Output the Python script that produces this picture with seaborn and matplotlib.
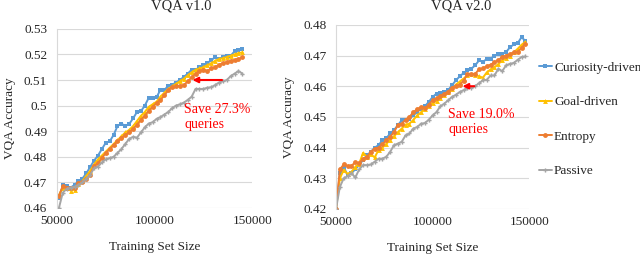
import numpy as np
import pandas as pd
import matplotlib
matplotlib.use("Agg")
import matplotlib.pyplot as plt
import seaborn as sns

# ----- data: VQA v1.0 -----
v1_size = list(range(51000, 146000, 2000))
v1_curiosity = [0.4640, 0.4688, 0.4685, 0.4680, 0.4690, 0.4705, 0.4715, 0.4735, 0.4760, 0.4785,
                0.4805, 0.4830, 0.4855, 0.4860, 0.4885, 0.4920, 0.4930, 0.4920, 0.4928, 0.4950,
                0.4975, 0.4978, 0.5000, 0.5030, 0.5030, 0.5032, 0.5062, 0.5060, 0.5078, 0.5082,
                0.5090, 0.5100, 0.5112, 0.5125, 0.5140, 0.5140, 0.5150, 0.5158, 0.5165, 0.5178,
                0.5188, 0.5182, 0.5190, 0.5195, 0.5195, 0.5212, 0.5218, 0.5222]
v1_goal = [0.4650, 0.4680, 0.4678, 0.4668, 0.4672, 0.4695, 0.4705, 0.4725, 0.4745, 0.4770,
           0.4790, 0.4805, 0.4820, 0.4835, 0.4850, 0.4865, 0.4880, 0.4895, 0.4905, 0.4920,
           0.4940, 0.4960, 0.4975, 0.4995, 0.5005, 0.5015, 0.5035, 0.5050, 0.5065, 0.5075,
           0.5085, 0.5095, 0.5105, 0.5118, 0.5130, 0.5140, 0.5145, 0.5150, 0.5158, 0.5165,
           0.5175, 0.5182, 0.5185, 0.5190, 0.5195, 0.5200, 0.5205, 0.5208]
v1_entropy = [0.4648, 0.4685, 0.4680, 0.4678, 0.4680, 0.4698, 0.4700, 0.4715, 0.4730, 0.4765,
              0.4775, 0.4795, 0.4815, 0.4830, 0.4845, 0.4860, 0.4872, 0.4885, 0.4895, 0.4910,
              0.4925, 0.4945, 0.4960, 0.4980, 0.4995, 0.5010, 0.5022, 0.5040, 0.5060, 0.5072,
              0.5075, 0.5078, 0.5080, 0.5095, 0.5110, 0.5125, 0.5135, 0.5140, 0.5135, 0.5145,
              0.5150, 0.5160, 0.5165, 0.5170, 0.5175, 0.5178, 0.5182, 0.5188]
v1_passive = [0.4600, 0.4660, 0.4675, 0.4680, 0.4683, 0.4690, 0.4700, 0.4715, 0.4730, 0.4755,
              0.4762, 0.4778, 0.4790, 0.4795, 0.4800, 0.4815, 0.4830, 0.4850, 0.4870, 0.4878,
              0.4875, 0.4895, 0.4915, 0.4930, 0.4935, 0.4948, 0.4955, 0.4965, 0.4975, 0.4990,
              0.5000, 0.5005, 0.5012, 0.5022, 0.5035, 0.5065, 0.5065, 0.5065, 0.5070, 0.5072,
              0.5080, 0.5090, 0.5095, 0.5100, 0.5115, 0.5125, 0.5135, 0.5125]

# ----- data: VQA v2.0 -----
v2_size = list(range(50000, 150000, 2000))
v2_curiosity = [0.4200, 0.4316, 0.4337, 0.4310, 0.4316, 0.4330, 0.4343, 0.4360, 0.4375, 0.4386,
                0.4400, 0.4408, 0.4424, 0.4430, 0.4446, 0.4457, 0.4473, 0.4489, 0.4491, 0.4494,
                0.4505, 0.4516, 0.4527, 0.4535, 0.4549, 0.4565, 0.4576, 0.4578, 0.4581, 0.4587,
                0.4603, 0.4619, 0.4632, 0.4643, 0.4652, 0.4657, 0.4668, 0.4684, 0.4679, 0.4689,
                0.4689, 0.4700, 0.4704, 0.4706, 0.4711, 0.4727, 0.4736, 0.4740, 0.4760, 0.4747]
v2_goal = [0.4200, 0.4300, 0.4327, 0.4314, 0.4321, 0.4337, 0.4348, 0.4383, 0.4370, 0.4378,
           0.4368, 0.4392, 0.4400, 0.4412, 0.4425, 0.4437, 0.4450, 0.4462, 0.4475, 0.4478,
           0.4490, 0.4505, 0.4515, 0.4525, 0.4535, 0.4545, 0.4552, 0.4562, 0.4570, 0.4580,
           0.4590, 0.4605, 0.4615, 0.4625, 0.4635, 0.4640, 0.4638, 0.4632, 0.4628, 0.4645,
           0.4655, 0.4662, 0.4672, 0.4685, 0.4692, 0.4700, 0.4710, 0.4722, 0.4735, 0.4745]
v2_entropy = [0.4200, 0.4329, 0.4345, 0.4340, 0.4341, 0.4352, 0.4350, 0.4364, 0.4370, 0.4386,
              0.4397, 0.4400, 0.4411, 0.4424, 0.4435, 0.4451, 0.4473, 0.4478, 0.4491, 0.4500,
              0.4515, 0.4525, 0.4532, 0.4528, 0.4540, 0.4555, 0.4560, 0.4568, 0.4575, 0.4582,
              0.4595, 0.4600, 0.4605, 0.4618, 0.4640, 0.4640, 0.4640, 0.4655, 0.4658, 0.4665,
              0.4670, 0.4678, 0.4685, 0.4695, 0.4700, 0.4705, 0.4710, 0.4712, 0.4725, 0.4738]
v2_passive = [0.4200, 0.4272, 0.4300, 0.4307, 0.4316, 0.4303, 0.4329, 0.4343, 0.4343, 0.4345,
              0.4354, 0.4364, 0.4364, 0.4370, 0.4386, 0.4408, 0.4413, 0.4419, 0.4440, 0.4446,
              0.4462, 0.4467, 0.4478, 0.4480, 0.4491, 0.4505, 0.4516, 0.4535, 0.4543, 0.4554,
              0.4565, 0.4572, 0.4581, 0.4587, 0.4594, 0.4595, 0.4600, 0.4610, 0.4619, 0.4621,
              0.4635, 0.4635, 0.4657, 0.4649, 0.4668, 0.4673, 0.4676, 0.4686, 0.4695, 0.4697]

names = ["Curiosity-driven", "Goal-driven", "Entropy", "Passive"]
colors = ["#5B9BD5", "#FFC000", "#ED7D31", "#A5A5A5"]
markers = ["s", "^", "o", "P"]
msizes = [3.2, 3.5, 3.5, 3.0]

sns.set_style("white")
plt.rcParams["font.family"] = ["Liberation Serif", "DejaVu Serif"]

fig = plt.figure(figsize=(6.4, 2.56), dpi=100)
ax1 = fig.add_axes([0.089, 0.1875, 0.305, 0.70])
ax2 = fig.add_axes([0.525, 0.1836, 0.302, 0.7194])

panels = [
    (ax1, v1_size, [v1_curiosity, v1_goal, v1_entropy, v1_passive], (0.46, 0.53)),
    (ax2, v2_size, [v2_curiosity, v2_goal, v2_entropy, v2_passive], (0.42, 0.48)),
]

for ax, xs, series, (lo, hi) in panels:
    for name, ys, c, m, ms in zip(names, series, colors, markers, msizes):
        df = pd.DataFrame({"size": xs, "acc": ys})
        sns.lineplot(data=df, x="size", y="acc", ax=ax, color=c, marker=m,
                     markersize=ms, markeredgewidth=0, linewidth=1.4, label=name)
    ax.set_xlim(50000, 150000)
    ax.set_ylim(lo, hi)
    ax.set_xticks([50000, 100000, 150000])
    yt = np.round(np.arange(lo, hi + 0.001, 0.01), 2)
    ax.set_yticks(yt)
    ax.set_yticklabels([("%g" % v) for v in yt])
    ax.grid(axis="y", color="#D9D9D9", linewidth=0.8)
    ax.set_axisbelow(True)
    for s in ["top", "right", "bottom"]:
        ax.spines[s].set_visible(False)
    ax.spines["left"].set_color("#D9D9D9")
    ax.spines["left"].set_linewidth(0.8)
    ax.tick_params(axis="y", length=0, pad=7, labelsize=9.5)
    ax.tick_params(axis="x", length=0, pad=5, labelsize=9.5)
    ax.set_xlabel("Training Set Size", fontsize=9.5, labelpad=10)
    ax.set_ylabel("VQA Accuracy", fontsize=9.5, labelpad=6)
    ax.get_legend().remove()

# annotations
ax1.annotate("", xy=(118000, 0.510), xytext=(136000, 0.510),
             arrowprops=dict(arrowstyle="-|>", color="red", lw=1.5, mutation_scale=8))
ax1.text(115300, 0.4956, "Save 27.3%\nqueries", color="red", fontsize=10,
         va="center", ha="left", linespacing=1.25)
ax2.annotate("", xy=(114000, 0.460), xytext=(123000, 0.460),
             arrowprops=dict(arrowstyle="-|>", color="red", lw=1.5, mutation_scale=8))
ax2.text(108200, 0.4484, "Save 19.0%\nqueries", color="red", fontsize=10,
         va="center", ha="left", linespacing=1.25)

fig.text(181 / 640, 0.975, "VQA v1.0", ha="center", va="center", fontsize=10.5)
fig.text(461 / 640, 0.975, "VQA v2.0", ha="center", va="center", fontsize=10.5)

handles, labels = ax2.get_legend_handles_labels()
fig.legend(handles, labels, loc="center left", bbox_to_anchor=(0.842, 0.533),
           frameon=False, fontsize=9.5, handlelength=1.0, handletextpad=0.15,
           labelspacing=1.68, borderaxespad=0, borderpad=0)

fig.savefig("out.png", dpi=100)
